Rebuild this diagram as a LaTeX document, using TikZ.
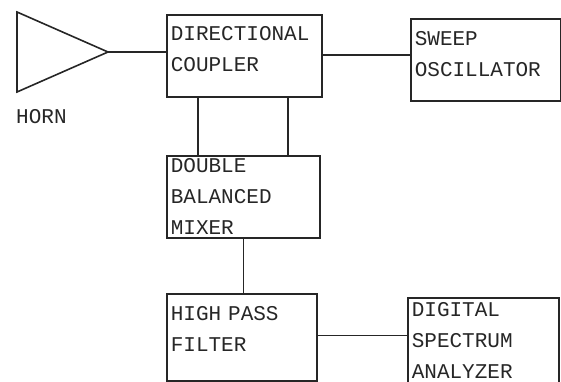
\documentclass[tikz,border=0pt]{standalone}
\usepackage{fontspec}
\usepackage{tikz}
\usetikzlibrary{positioning, calc}
\newfontfamily\plotfont{Liberation Mono}
\tikzstyle{block} = [draw, rectangle, anchor=north west, align=left, inner xsep=4pt, inner ysep=0pt, line width=1.6pt, font=\plotfont\fontsize{21pt}{31pt}\selectfont]
\tikzstyle{wire} = [draw, line width=1.6pt]

\begin{document}
\begin{tikzpicture}[x=1pt, y=-1pt, color=black!85]
    \useasboundingbox (0,0) rectangle (561,382);

    \coordinate (horn) at (108,52);
    \draw [wire, line join=miter] (17,12) -- (horn) -- (17,92) -- cycle;
    \node (hornlabel) [anchor=west, inner sep=0pt, font=\plotfont\fontsize{21pt}{31pt}\selectfont] at (16,117) {HORN};

    \node (coupler) [block, text width=147pt, minimum height=82pt] at (166,14) {DIRECTIONAL\\COUPLER\\[-17pt]\mbox{}};
    \node (sweep) [block, text width=142pt, minimum height=82pt] at (410,18) {SWEEP\\OSCILLATOR\\[-19pt]\mbox{}};
    \node (mixer) [block, text width=145pt, minimum height=82pt] at (166,155) {DOUBLE\\BALANCED\\MIXER};
    \node (hpf) [block, text width=142pt, minimum height=87pt] at (166,293) {HIGH PASS\\FILTER\\[-15pt]\mbox{}};
    \node (dsa) [block, text width=143pt, minimum height=92pt] at (407,297) {DIGITAL\\SPECTRUM\\ANALYZER\\[-25pt]\mbox{}};

    % Signal path
    \draw [wire] (horn) -- (horn -| coupler.west);
    \draw [wire] ([yshift=1pt]coupler.east) -- ([yshift=1pt]coupler.east -| sweep.west);
    \draw [wire] ([xshift=32pt]coupler.south west) -- ([xshift=32pt]coupler.south west |- mixer.north);
    \draw [wire] ([xshift=122pt]coupler.south west) -- ([xshift=122pt]coupler.south west |- mixer.north);
    \draw [wire] (mixer.south) -- (mixer.south |- hpf.north);
    \draw [wire] ([yshift=2pt]hpf.east) -- ([yshift=2pt]hpf.east -| dsa.west);
\end{tikzpicture}
\end{document}
